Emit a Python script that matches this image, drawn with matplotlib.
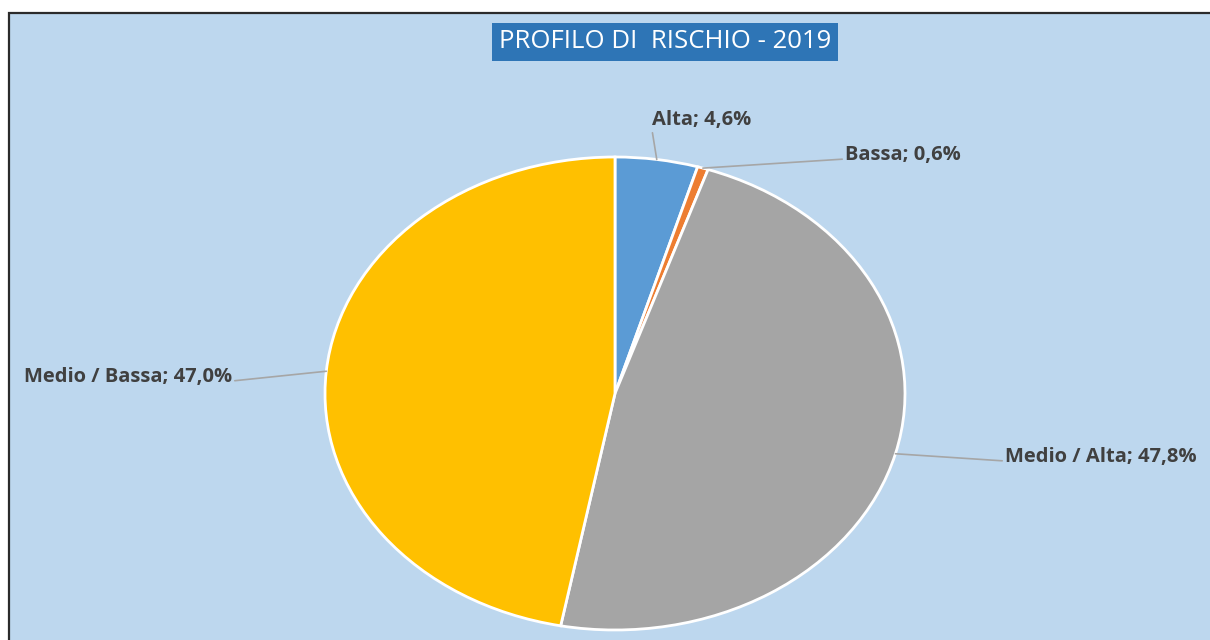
import matplotlib.pyplot as plt
from matplotlib.patches import Rectangle
import numpy as np

# dati
categorie = ['Alta', 'Bassa', 'Medio / Alta', 'Medio / Bassa']
valori = [4.6, 0.6, 47.8, 47.0]
colori = ['#5B9BD5', '#ED7D31', '#A5A5A5', '#FFC000']
etichette = ['Alta; 4,6%', 'Bassa; 0,6%', 'Medio / Alta; 47,8%', 'Medio / Bassa; 47,0%']

W, H = 1210, 640
fig = plt.figure(figsize=(W / 100, H / 100), dpi=100)
fig.patch.set_facecolor('white')

# sfondo con cornice
fig.patches.append(Rectangle((9 / W, -0.05), 1.1, (H - 13) / H + 0.05,
                             transform=fig.transFigure, facecolor='#BDD7EE',
                             edgecolor='#2b2b2b', lw=1.6, zorder=-5))

# torta ellittica (assi non quadrati)
ax = fig.add_axes([325 / W, 10 / H, 580 / W, 473 / H])
ax.set_zorder(2)
ax.set_facecolor('none')
wedges, _ = ax.pie(valori, colors=colori, startangle=90, counterclock=False,
                   radius=1, wedgeprops=dict(edgecolor='white', linewidth=2))
ax.set_xlim(-1, 1)
ax.set_ylim(-1, 1)
ax.set_aspect('auto')
ax.axis('off')

# posizioni etichette (pixel figura, origine in basso)
pos_testo = [(652, H - 120), (845, H - 155), (1005, H - 457), (232, H - 377)]
allineamento = ['left', 'left', 'left', 'right']
rel = [(0.0, 0.0), (0.0, 0.3), (0.0, 0.3), (1.0, 0.3)]

for w, lab, p, ha, rp in zip(wedges, etichette, pos_testo, allineamento, rel):
    ang = np.deg2rad((w.theta1 + w.theta2) / 2)
    ax.annotate(lab, xy=(np.cos(ang), np.sin(ang)), xycoords='data',
                xytext=p, textcoords='figure pixels', ha=ha, va='center',
                fontsize=14.5, fontweight='bold', color='#404040', family='Open Sans',
                arrowprops=dict(arrowstyle='-', color='#A6A6A6', lw=1.2,
                                shrinkA=0, shrinkB=0, relpos=rp),
                annotation_clip=False)

# titolo
fig.text(665 / W, 1 - 42 / H, 'PROFILO DI  RISCHIO - 2019', ha='center', va='center',
         fontsize=18.5, color='white', family='Open Sans', zorder=3,
         bbox=dict(boxstyle='square,pad=0.25', facecolor='#2E75B6', edgecolor='none'))

fig.savefig('out.png', dpi=100)
